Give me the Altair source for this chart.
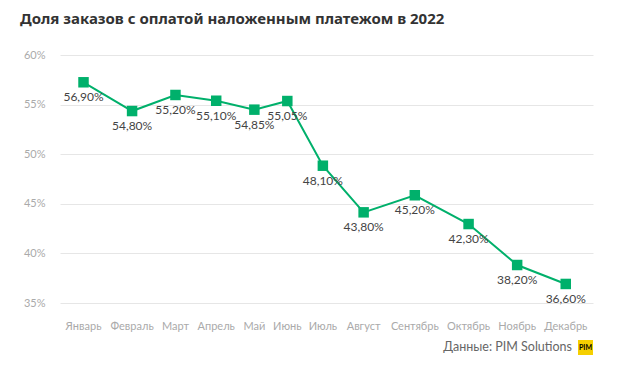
import altair as alt
import pandas as pd

months = ["Январь", "Февраль", "Март", "Апрель", "Май", "Июнь", "Июль",
          "Август", "Сентябрь", "Октябрь", "Ноябрь", "Декабрь"]
# marker positions as drawn in the picture
plotted = [57.25, 54.35, 55.97, 55.39, 54.49, 55.36, 48.84, 44.14, 45.86, 42.96, 38.83, 36.92]
# values printed in the labels
labels = [56.90, 54.80, 55.20, 55.10, 54.85, 55.05, 48.10, 43.80, 45.20, 42.30, 38.20, 36.60]

# category layout: each month gets a slot as wide as its label plus a gap
CHAR_W = 5.21
LABEL_PAD = 5.26
GAP = 9.45
LEFT = 5.25
pos = []
cur = LEFT
for m in months:
    w = len(m) * CHAR_W + LABEL_PAD
    pos.append(cur + w / 2)
    cur += w + GAP

df = pd.DataFrame({
    "month": months,
    "pos": pos,
    "value": plotted,
    "label": [f"{v:.2f}".replace(".", ",") + "%" for v in labels],
})

W, H = 533, 248
green = "#00b06b"
x = alt.X("pos:Q", title=None, scale=alt.Scale(domain=[0, W], nice=False, zero=False),
          axis=None)
y = alt.Y("value:Q", title=None,
          scale=alt.Scale(domain=[35, 60], nice=False, zero=False),
          axis=alt.Axis(values=[35, 40, 45, 50, 55, 60], labelExpr="datum.value + '%'",
                        labelColor="#aaaaaa", labelFont="Lato", labelFontSize=11,
                        labelPadding=15, domain=False, ticks=False,
                        gridColor="#e6e6e6", gridWidth=1))

base = alt.Chart(df).encode(x=x, y=y)
line = base.mark_line(color=green, strokeWidth=2)
pts = base.mark_square(color=green, size=110, opacity=1)
txt = base.mark_text(dy=15, baseline="middle", align="center", font="Lato",
                     fontSize=12, color="#444444").encode(text="label:N")
mlab = alt.Chart(df).mark_text(baseline="middle", align="center", font="Lato",
                               fontSize=11, color="#aaaaaa").encode(
    x=x, y=alt.value(H + 24), text="month:N")

src = alt.Chart(pd.DataFrame({"t": ["Данные: PIM Solutions"]})).mark_text(
    align="right", baseline="middle", font="Lato", fontSize=12.5, color="#666666"
).encode(x=alt.value(512), y=alt.value(292), text="t:N")

logo = alt.Chart(pd.DataFrame({"t": ["PIM"]})).mark_rect(color="#f5cf00").encode(
    x=alt.value(518), x2=alt.value(533), y=alt.value(285), y2=alt.value(300))
logo_t = alt.Chart(pd.DataFrame({"t": ["PIM"]})).mark_text(
    align="center", baseline="middle", font="Lato", fontSize=7, fontWeight="bold",
    color="#000000").encode(x=alt.value(525.5), y=alt.value(292.5), text="t:N")

chart = alt.layer(line, pts, txt, mlab, src, logo, logo_t).properties(
    width=W, height=H,
    autosize=alt.AutoSizeParams(type="none"),
    padding={"left": 52, "top": 47, "right": 22, "bottom": 56},
    title=alt.TitleParams("Доля заказов с оплатой наложенным платежом в 2022",
                          anchor="start", frame="group", dx=-40, offset=22,
                          font="Noto Sans", fontSize=15, fontWeight="bold",
                          color="#333333"),
).configure_view(stroke=None)

chart.save("out.html", embed_options={"renderer": "svg", "actions": False})
